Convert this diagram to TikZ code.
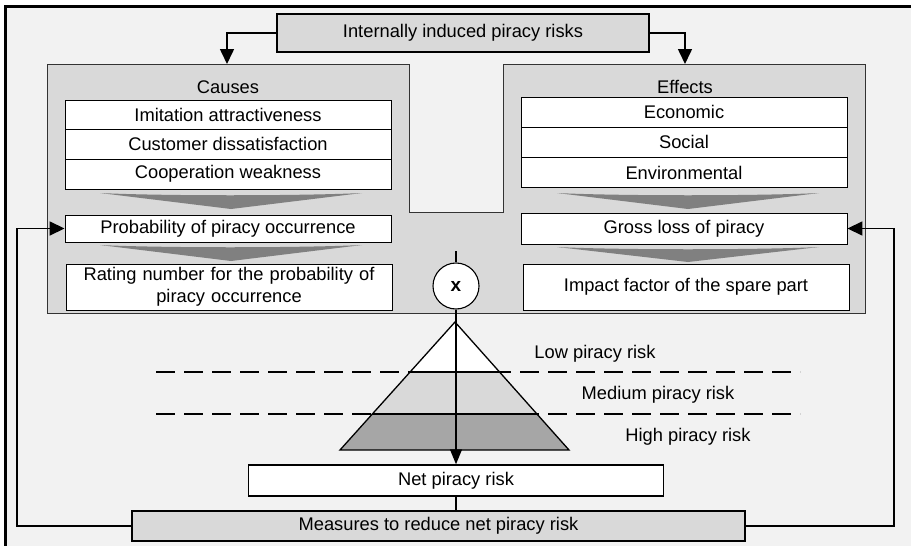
\documentclass[tikz,border=0pt]{standalone}
\usepackage{fontspec}
\setmainfont{Liberation Sans}
\usetikzlibrary{arrows.meta}
\definecolor{bgpage}{HTML}{F2F2F2}
\definecolor{panelgray}{HTML}{D9D9D9}
\definecolor{funnelgray}{HTML}{808080}
\definecolor{highgray}{HTML}{A6A6A6}
\begin{document}
\begin{tikzpicture}[x=1pt,y=-1pt,
  font=\fontsize{18.3}{22}\selectfont,
  box/.style={draw, line width=1.5pt, inner sep=0pt, align=center},
  rowbox/.style={draw, line width=0.9pt, fill=white, inner sep=0pt, minimum width=326pt},
  greybox/.style={box, fill=panelgray},
  arr/.style={line width=1.6pt, -{Triangle[length=15pt,width=14pt]}},
  funnel/.style={fill=funnelgray, draw=none},
  dashline/.style={line width=1.4pt, dash pattern=on 19pt off 9pt}]
\useasboundingbox (0,0) rectangle (911,546);
% page frame
\fill[bgpage] (5,6) rectangle (911,546);
\draw[line width=3pt] (5,546) -- (5,6) -- (911,6);

% combined causes/effects panel with a notch between them
\draw[fill=panelgray, draw=black!80, line width=0.9pt]
  (47,64) -- (409,64) -- (409,212) -- (503,212) -- (503,64) -- (865,64)
  -- (865,313) -- (47,313) -- cycle;

% top box
\node[greybox, minimum width=372pt, minimum height=38pt] (top) at (463,33) {Internally induced piracy risks};
\coordinate (causesTop) at (227,64);
\coordinate (effectsTop) at (685,64);
\draw[arr] (top.west) -| (causesTop);
\draw[arr] (top.east) -| (effectsTop);

% causes column
\node (causes) at (228,87) {Causes};
\node[rowbox, minimum height=29pt] (c1) at (228,114.5) {Imitation attractiveness};
\node[rowbox, minimum height=30pt] (c2) at (228,144) {Customer dissatisfaction};
\node[rowbox, minimum height=30pt] (c3) at (228,174) {Cooperation weakness};
\fill[funnel] (100,193) .. controls (160,196) and (300,196) .. (362,193) -- (231,209) -- cycle;
\node[rowbox, minimum height=27pt] (prob) at (228,228.5) {Probability of piracy occurrence};
\fill[funnel] (100,245) .. controls (160,248) and (300,248) .. (362,245) -- (231,261) -- cycle;
\node[rowbox, minimum height=46pt, align=center, text width=326pt] (rating) at (229,287)
  {Rating number for the probability of\\piracy occurrence};

% effects column
\node (effects) at (685,87) {Effects};
\node[rowbox, minimum height=30pt] (e1) at (684,112) {Economic};
\node[rowbox, minimum height=30pt] (e2) at (684,142) {Social};
\node[rowbox, minimum height=30pt] (e3) at (684,172.5) {Environmental};
\fill[funnel] (557,193) .. controls (617,196) and (759,196) .. (819,193) -- (688,209) -- cycle;
\node[rowbox, minimum height=31pt] (gross) at (684,228.5) {Gross loss of piracy};
\fill[funnel] (557,247) .. controls (617,250) and (759,250) .. (819,247) -- (688,262) -- cycle;
\node[rowbox, minimum height=46pt] (impact) at (686,287) {Impact factor of the spare part};

% pyramid of risk levels
\fill[highgray] (372,414) -- (537,414) -- (569,450) -- (340,450) -- cycle;
\fill[panelgray] (410,372) -- (499,372) -- (537,414) -- (372,414) -- cycle;
\fill[white] (455,322) -- (499,372) -- (410,372) -- cycle;
\draw[dashline] (156,372) -- (800,372);
\draw[dashline] (156,414) -- (800,414);
\draw[line width=1.3pt] (410,372) -- (499,372);
\draw[line width=1.3pt] (372,414) -- (537,414);
\draw[line width=1.3pt, line join=miter] (455,322) -- (569,450) -- (340,450) -- cycle;
\node (low) at (595,354) {Low piracy risk};
\node (medium) at (658,395) {Medium piracy risk};
\node (high) at (688,437) {High piracy risk};

% multiplication node and result
\node[draw, circle, fill=white, line width=1.1pt, minimum size=46pt, inner sep=0pt,
      font=\fontsize{19}{22}\selectfont\bfseries] (times) at (456,286) {x};
\coordinate (timesIn) at (456,251);
\draw[line width=1.2pt] (timesIn) -- (times.north);
\node[box, fill=white, minimum width=415pt, minimum height=31pt] (net) at (456,480.5) {Net piracy risk};
\draw[line width=1.3pt, -{Triangle[length=15pt,width=12pt]}] (times.south) -- (net.north);

% measures and feedback loops
\node[greybox, minimum width=613pt, minimum height=30pt] (meas) at (438.5,526) {Measures to reduce net piracy risk};
\draw[line width=1.2pt] (net.south) -- (net.south |- meas.north);
\coordinate (loopL) at (17,526);
\coordinate (loopR) at (894,526);
\draw[arr] (meas.west) -- (loopL) |- (prob.west);
\draw[arr] (meas.east) -- (loopR) |- (gross.east);
\end{tikzpicture}
\end{document}
